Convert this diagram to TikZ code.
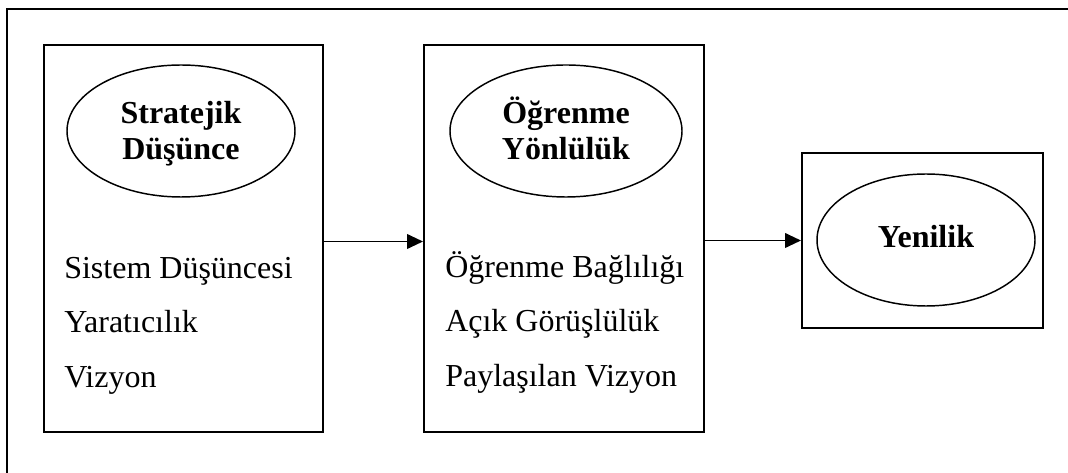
\documentclass[tikz,border=0pt]{standalone}
\usepackage{fontspec}
\setmainfont{Liberation Serif}
\usetikzlibrary{shapes.geometric,arrows.meta}
\begin{document}
\begin{tikzpicture}[x=0.75pt,y=-0.75pt,
  panel/.style={draw,line width=1.5pt,rectangle,inner sep=0pt},
  oval/.style={draw,line width=1.1pt,ellipse,inner sep=0pt},
  head/.style={anchor=base,inner sep=0pt,font=\bfseries\fontsize{24}{24}\selectfont},
  item/.style={anchor=base west,inner sep=0pt,font=\fontsize{24}{28}\selectfont},
  flow/.style={line width=1.4pt,-{Triangle[length=12pt,width=11pt]}}]
\useasboundingbox (0,0) rectangle (1068,473);
% open frame: top and left edges only
\draw[line width=1.8pt] (7,473) -- (7,9) -- (1068,9);
% three stages
\node[panel,minimum width=279*0.75pt,minimum height=387*0.75pt] (box1) at (183.5,238.5) {};
\node[panel,minimum width=280*0.75pt,minimum height=387*0.75pt] (box2) at (564,238.5) {};
\node[panel,minimum width=241*0.75pt,minimum height=175*0.75pt] (box3) at (922.5,240.5) {};
% headings
\node[oval,minimum width=228*0.75pt,minimum height=132*0.75pt] (e1) at (181,131) {};
\node[oval,minimum width=232*0.75pt,minimum height=132*0.75pt] (e2) at (566,131) {};
\node[oval,minimum width=218*0.75pt,minimum height=132*0.75pt] (e3) at (926,240) {};
\node[head] (h1a) at (181,124) {Stratejik};
\node[head] (h1b) at (181,160) {Düşünce};
\node[head] (h2a) at (566,124) {Öğrenme};
\node[head] (h2b) at (566,160) {Yönlülük};
\node[head] (h3) at (926,248) {Yenilik};
% components
\node[item] (s1) at (64,279) {Sistem Düşüncesi};
\node[item] (s2) at (64,333) {Yaratıcılık};
\node[item] (s3) at (64,388) {Vizyon};
\node[item] (o1) at (445,278) {Öğrenme Bağlılığı};
\node[item] (o2) at (445,332) {Açık Görüşlülük};
\node[item] (o3) at (445,387) {Paylaşılan Vizyon};
% links
\draw[flow] ([shift={(0,3)}]box1.east) -- ([shift={(0,3)}]box2.west);
\draw[flow] (box2.east |- box3.west) -- (box3.west);
\end{tikzpicture}
\end{document}
